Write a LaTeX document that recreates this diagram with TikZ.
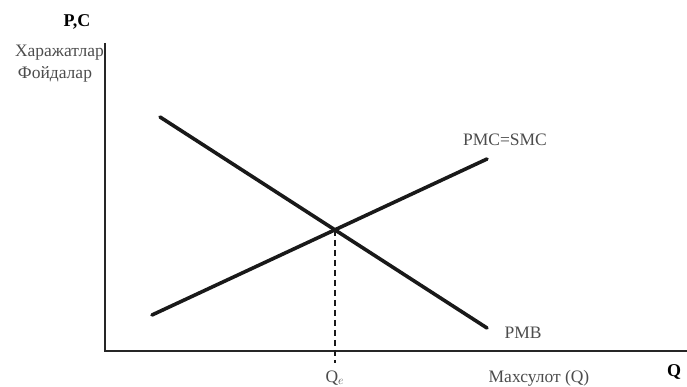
\documentclass[tikz,border=0pt]{standalone}
\usepackage{fontspec}
\setmainfont{Liberation Serif}
\usetikzlibrary{calc}
\tikzstyle{axis} = [line width=2.2pt, black!85]
\tikzstyle{curve} = [line width=3.6pt, black!90, line cap=round]
\tikzstyle{guide} = [line width=2.2pt, dashed, dash pattern=on 6pt off 4pt, black!90]
\tikzstyle{lbl} = [font=\fontsize{17.5}{18}\selectfont, text=black!70, inner sep=0pt]
\tikzstyle{axlbl} = [font=\fontsize{18}{19}\selectfont\bfseries, inner sep=0pt]

\begin{document}
\begin{tikzpicture}[x=1pt, y=1pt]
\useasboundingbox (0,0) rectangle (687,386);

% AXES
\coordinate (origin) at (105,35);
\coordinate (ytop) at (105,343);
\coordinate (xend) at (687,35);
\draw [axis] (ytop) -- (origin) -- (xend);

% CURVES
\coordinate (pmbstart) at (160,269);
\coordinate (pmbend) at (487,58);
\coordinate (pmcstart) at (152,71);
\coordinate (pmcend) at (487,227);
\draw [curve] (pmbstart) -- (pmbend);
\draw [curve] (pmcstart) -- (pmcend);

% equilibrium
\coordinate (eq) at (intersection of pmbstart--pmbend and pmcstart--pmcend);
\coordinate (eqfoot) at ($(eq |- origin)+(0,-12)$);
\draw [guide] (eq) -- (eqfoot);

% Beschriftung
\node (pc) [axlbl] at (77,364) {P,C};
\node (costs) [lbl, anchor=east] at (104,333) {Харажатлар};
\node (benefits) [lbl] at (55,312) {Фойдалар};
\node (pmclbl) [lbl] at (505,246) {PMC=SMC};
\node (pmblbl) [lbl] at (523,53) {PMB};
\node (qe) [lbl] at ($(eq |- origin)+(0,-27)$) {Q$_{e}$};
\node (output) [lbl] at (539,8) {Махсулот (Q)};
\node (q) [axlbl] at (674,14) {Q};

\end{tikzpicture}
\end{document}
